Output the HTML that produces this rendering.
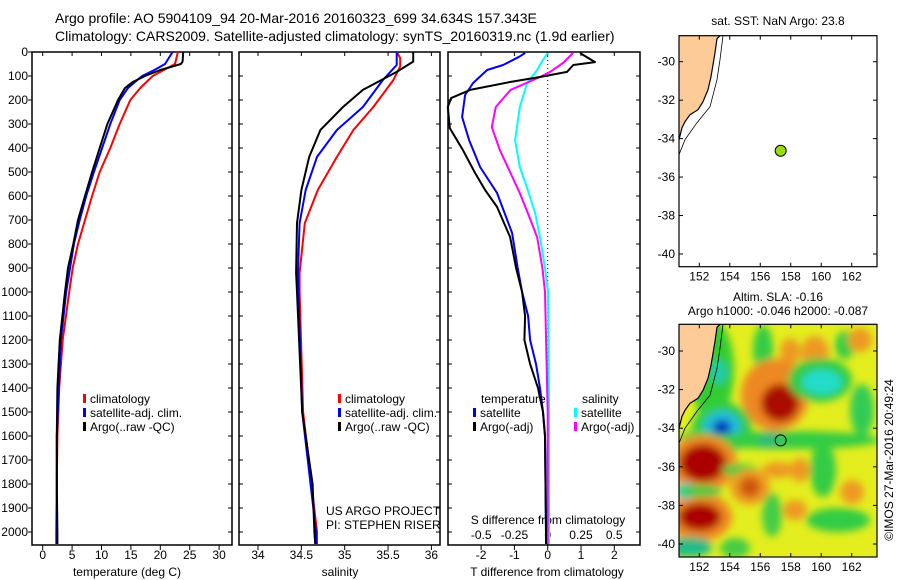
<!DOCTYPE html>
<html><head><meta charset="utf-8"><style>
body{margin:0;background:#fff;}
svg{display:block;font-family:"Liberation Sans",sans-serif;}
</style></head><body>
<svg id="c" width="900" height="580" viewBox="0 0 900 580"></svg>
<script>
// ---- data ----
const depthTicks=[0,100,200,300,400,500,600,700,800,900,1000,1100,1200,1300,1400,1500,1600,1700,1800,1900,2000];
const tempTicks=[0,5,10,15,20,25,30];
const salTicks=[34,34.5,35,35.5,36];
const salTickLabels=["34","34.5","35","35.5","36"];
const tdiffTicks=[-2,-1,0,1,2];
const sdiffTicks=[-0.5,-0.25,0,0.25,0.5];
const sdiffTickLabels=["-0.5","-0.25","0","0.25","0.5"];
const latTicks=[-30,-32,-34,-36,-38,-40];
const lonTicks=[152,154,156,158,160,162];

const tArgoDepth=[0,40,50,75,100,125,150,200,300,400,500,600,700,800,900,1000,1200,1400,1600,1800,2000,2050];
const tArgo=[23.9,23.8,23.5,20,17.4,15.3,14,12.8,11,9.7,8.4,7.2,6,5.2,4.3,3.8,2.9,2.5,2.4,2.4,2.5,2.5];
const tClimDepth=[0,50,100,150,200,250,300,400,500,600,700,800,900,1000,1200,1400,1600,2000,2050];
const tClim=[23,22.5,18.7,16.6,14.9,14,13.1,11.5,9.7,8.4,7.2,6,5.1,4.5,3.4,2.8,2.5,2.3,2.3];
const tSatDepth=[0,50,75,100,150,200,300,400,500,600,700,800,1000,1200,1600,2000,2050];
const tSat=[22.1,20.8,19,16.9,14.5,13.1,11.5,10.1,8.7,7.4,6.3,5.3,4,3.1,2.4,2.4,2.4];

const sArgoDepth=[0,40,83,158,229,325,437,575,713,921,1000,1500,1800,2000,2050];
const sArgo=[35.79,35.79,35.6,35.21,34.98,34.72,34.59,34.5,34.45,34.44,34.45,34.51,34.63,34.65,34.66];
const sSatDepth=[0,54,117,229,325,437,575,713,921,1500,2000,2050];
const sSat=[35.6,35.6,35.44,35.21,34.91,34.68,34.55,34.48,34.46,34.51,34.67,34.67];
const sClimDepth=[0,25,60,117,229,325,437,575,713,921,1000,1500,2000,2050];
const sClim=[35.6,35.64,35.64,35.56,35.33,35.1,34.91,34.69,34.54,34.48,34.48,34.52,34.68,34.68];

const dtArgoDepth=[4,42,54,83,104,125,158,192,229,317,408,504,575,646,771,900,1000,1100,1200,1300,1400,1500,1600,2000,2050];
const dtArgo=[0.97,1.42,0.77,0.58,-0.23,-1.13,-2.33,-2.9,-3,-2.94,-2.55,-2.18,-1.88,-1.52,-1.13,-0.95,-0.77,-0.68,-0.7,-0.53,-0.29,-0.14,-0.08,-0.05,-0.05];
const dtSatDepth=[4,20,54,75,129,179,271,367,479,588,754,900,1000,1100,1200,1300,1400,1500,1600,2000,2050];
const dtSat=[-0.68,-0.86,-1.34,-1.82,-2.24,-2.48,-2.57,-2.36,-2.03,-1.52,-1.07,-0.9,-0.77,-0.59,-0.53,-0.35,-0.23,-0.14,-0.08,-0.05,-0.05];
const dsArgoDepth=[4,46,83,104,158,229,313,408,504,588,671,771,900,1000,1500,2050];
const dsArgo=[0.19,0.115,0.017,-0.058,-0.28,-0.39,-0.42,-0.36,-0.28,-0.21,-0.15,-0.08,-0.04,-0.02,0,0];
const dsSatDepth=[4,33,75,129,229,367,479,575,671,771,900,1000,1500,2050];
const dsSat=[0,-0.035,-0.08,-0.155,-0.21,-0.245,-0.21,-0.15,-0.095,-0.058,-0.02,0.003,0.01,0.01];

const floatLon=157.34, floatLat=-34.63;

// ---- helpers ----
const svg=document.getElementById('c');
const NS='http://www.w3.org/2000/svg';
function mk(tag,attrs,parent){const e=document.createElementNS(NS,tag);for(const k in attrs)e.setAttribute(k,attrs[k]);(parent||svg).appendChild(e);return e;}
function txt(s,x,y,anchor,size,parent){const t=mk('text',{x:x,y:y,'text-anchor':anchor||'start','font-size':size||12,fill:'#000'},parent);t.textContent=s;return t;}
const yD=d=>52+0.24*d;
const xT=v=>42.7+5.88*v;
const xS=v=>258+86.7*(v-34);
const xDT=v=>547.7+33.3*v;
const xDS=v=>547.7+133*v;
const mLon=v=>699.3+15.24*(v-152);
const mLat1=v=>61.7-19.23*(v+30);
const mLat2=v=>351-19.3*(v+30);

function line(depths,vals,xf,color,name){
  const p=mk('polyline',{points:depths.map((d,i)=>xf(vals[i]).toFixed(1)+','+yD(d).toFixed(1)).join(' '),fill:'none',stroke:color,'stroke-width':2,'stroke-linejoin':'round'});
  
  
}
function frame(x0,x1,y0,y1,name){
  const r=mk('rect',{x:x0,y:y0,width:x1-x0,height:y1-y0,fill:'none',stroke:'#000','stroke-width':1.5});
  
  
}

// ---- titles ----
txt('Argo profile: AO 5904109_94 20-Mar-2016 20160323_699 34.634S 157.343E',55,23,'start',14);
txt('Climatology: CARS2009. Satellite-adjusted climatology: synTS_20160319.nc (1.9d earlier)',55,41,'start',14);

// ---- panel frames ----
const panels=[[32,232],[239,440],[448,640]];
panels.forEach((p,i)=>{
  frame(p[0],p[1],52,545,'profile-panel-'+(i+1));
  depthTicks.forEach(d=>{
    const y=yD(d);
    if(i===0){mk('line',{x1:p[0]-4,x2:p[0],y1:y,y2:y,stroke:'#000'});
      const t=txt(String(d),28,y+4,'end',12);}
    else mk('line',{x1:p[0],x2:p[0]+4,y1:y,y2:y,stroke:'#000'});
    mk('line',{x1:p[1]-4,x2:p[1],y1:y,y2:y,stroke:'#000'});
  });
});
tempTicks.forEach(v=>{const x=xT(v);mk('line',{x1:x,x2:x,y1:545,y2:550,stroke:'#000'});mk('line',{x1:x,x2:x,y1:52,y2:56,stroke:'#000'});
  const t=txt(String(v),x,559,'middle',12);});
txt('temperature (deg C)',127,576,'middle',12);
salTicks.forEach((v,i)=>{const x=xS(v);mk('line',{x1:x,x2:x,y1:545,y2:550,stroke:'#000'});mk('line',{x1:x,x2:x,y1:52,y2:56,stroke:'#000'});
  const t=txt(salTickLabels[i],x,559,'middle',12);});
txt('salinity',340,576,'middle',12);
tdiffTicks.forEach(v=>{const x=xDT(v);mk('line',{x1:x,x2:x,y1:545,y2:550,stroke:'#000'});mk('line',{x1:x,x2:x,y1:52,y2:56,stroke:'#000'});
  const t=txt(String(v),x,559,'middle',12);});
txt('T difference from climatology',547,576,'middle',12);
sdiffTicks.forEach((v,i)=>{const t=txt(sdiffTickLabels[i],xDS(v),539,'middle',12);});
txt('S difference from climatology',548,524,'middle',12);
mk('line',{x1:547.7,x2:547.7,y1:52,y2:545,stroke:'#000','stroke-dasharray':'1,3'});

// ---- series ----
line(tClimDepth,tClim,xT,'#ff0000','temp-climatology-line');
line(tSatDepth,tSat,xT,'#0000ff','temp-satellite-line');
line(tArgoDepth,tArgo,xT,'#000000','temp-argo-line');
line(sClimDepth,sClim,xS,'#ff0000','sal-climatology-line');
line(sSatDepth,sSat,xS,'#0000ff','sal-satellite-line');
line(sArgoDepth,sArgo,xS,'#000000','sal-argo-line');
line(dsSatDepth,dsSat,xDS,'#00ffff','sdiff-satellite-line');
line(dsArgoDepth,dsArgo,xDS,'#ff00ff','sdiff-argo-line');
line(dtSatDepth,dtSat,xDT,'#0000ff','tdiff-satellite-line');
line(dtArgoDepth,dtArgo,xDT,'#000000','tdiff-argo-line');

// ---- legends ----
function leg(x,y,color,label,name){
  const g=mk('g',{});
  if(color)mk('rect',{x:x,y:y-9,width:3,height:9,fill:color},g);
  txt(label,x+7,y,'start',12,g);
}
leg(83,403,'#ff0000','climatology','legend-climatology');
leg(83,417,'#0000ff','satellite-adj. clim.','legend-satellite-adj');
leg(83,431,'#000','Argo(..raw -QC)','legend-argo-raw');
leg(338,403,'#ff0000','climatology','legend-sal-climatology');
leg(338,417,'#0000ff','satellite-adj. clim.','legend-sal-satellite-adj');
leg(338,431,'#000','Argo(..raw -QC)','legend-sal-argo-raw');
leg(474,403,null,'temperature','legend-temperature-head');
leg(473,417,'#0000ff','satellite','legend-t-satellite');
leg(473,431,'#000','Argo(-adj)','legend-t-argo');
leg(575,403,null,'salinity','legend-salinity-head');
leg(574,417,'#00ffff','satellite','legend-s-satellite');
leg(574,431,'#ff00ff','Argo(-adj)','legend-s-argo');
txt('US ARGO PROJECT',326,515,'start',12);
txt('PI: STEPHEN RISER',326,529,'start',12);

// ---- maps ----
const coast=[[720,0],[717,3],[715,17],[711,41],[708,54],[703,66],[698,74],[690,79],[685,86],[682,92],[679,104]];
const shelf=[[723,0],[720,24],[717,44],[710,71],[697,87],[685,104],[679,119]];
function map(top,bottom,latf,sla,name){
  const g=mk('g',{});
  const cid='clip'+name;
  const cp=mk('clipPath',{id:cid},g);mk('rect',{x:679,y:top,width:198,height:bottom-top},cp);
  const inner=mk('g',{'clip-path':'url(#'+cid+')'},g);
  const off=top;
  if(sla){
    const f=mk('filter',{id:'bl',x:'-50%',y:'-50%',width:'200%',height:'200%'},g);mk('feGaussianBlur',{stdDeviation:4},f);
    mk('rect',{x:679,y:top,width:198,height:bottom-top,fill:'#e4ee1e'},inner);
    const b=mk('g',{filter:'url(#bl)'},inner);
    const blobs=[
      [712,370,22,50,'#33cc33'],[719,372,8,12,'#22ccaa'],[763,350,10,25,'#33cc44'],[815,352,14,16,'#ee9922'],[790,352,10,14,'#ee9922'],
      [775,395,34,36,'#ee8822'],[780,403,19,19,'#aa1100'],
      [820,380,32,22,'#33cc44'],[822,382,20,12,'#22ddcc'],[862,410,12,26,'#33cc55'],[845,345,10,14,'#33cc44'],
      [722,428,30,26,'#33cc44'],[722,428,19,17,'#22bbdd'],[722,428,9,8,'#0033bb'],
      [790,440,90,9,'#33cc44'],[770,440,12,8,'#33bb77'],[700,440,20,10,'#33cc44'],
      [703,463,34,28,'#ee8822'],[703,463,23,19,'#aa0000'],[700,517,32,24,'#ee8822'],[700,517,21,14,'#aa0000'],
      [686,491,10,8,'#22ccdd'],[700,491,22,6,'#33cc44'],[740,470,18,6,'#33cc44'],
      [750,487,20,18,'#ee9922'],[750,487,10,10,'#cc5511'],[778,470,16,8,'#ee9922'],[800,470,10,12,'#ee9922'],
      [823,470,13,27,'#33cc44'],[838,520,32,12,'#33cc44'],[772,515,10,22,'#44cc44'],[690,547,22,10,'#22bb88'],[735,548,15,10,'#44cc44'],
      [860,340,12,12,'#ee9922'],[852,492,12,12,'#ee9922'],[795,510,12,10,'#ee9922']];
    blobs.forEach(o=>{const e=mk('ellipse',{cx:o[0],cy:o[1],rx:o[2],ry:o[3],fill:o[4]},b);
      });
  }
  const land=[[679,off]].concat(coast.map(p=>[p[0],p[1]+off])).concat([[679,off+104]]);
  mk('polygon',{points:land.map(p=>p.join(',')).join(' '),fill:'#fccb98'},inner);
  mk('polyline',{points:coast.map(p=>p[0]+','+(p[1]+off)).join(' '),fill:'none',stroke:'#000','stroke-width':1.2},inner);
  mk('polyline',{points:shelf.map(p=>p[0]+','+(p[1]+off)).join(' '),fill:'none',stroke:'#000','stroke-width':0.8},inner);
  mk('rect',{x:679,y:top,width:198,height:bottom-top,fill:'none',stroke:'#000','stroke-width':1.2},g);
  latTicks.forEach(v=>{const y=latf(v);mk('line',{x1:679,x2:683,y1:y,y2:y,stroke:'#000'},g);mk('line',{x1:873,x2:877,y1:y,y2:y,stroke:'#000'},g);
    const t=txt(String(v),675,y+4,'end',12,g);});
  lonTicks.forEach(v=>{const x=mLon(v);mk('line',{x1:x,x2:x,y1:top,y2:top+4,stroke:'#000'},g);mk('line',{x1:x,x2:x,y1:bottom-4,y2:bottom,stroke:'#000'},g);
    const t=txt(String(v),x,bottom+14,'middle',12,g);});
  return g;
}
map(35.7,266.7,mLat1,false,'sst-map');
const dot=mk('circle',{cx:mLon(floatLon),cy:mLat1(floatLat),r:5.5,fill:'#99dd11',stroke:'#000','stroke-width':1});

txt('sat. SST: NaN Argo: 23.8',778,25,'middle',12);
map(324.3,557,mLat2,true,'sla-map');
const ring=mk('circle',{cx:mLon(floatLon),cy:mLat2(floatLat),r:5.5,fill:'none',stroke:'#000','stroke-width':1});

txt('Altim. SLA: -0.16',778,301,'middle',12);
txt('Argo h1000: -0.046 h2000: -0.087',778,315,'middle',12);
const cr=txt('©IMOS 27-Mar-2016 20:49:24',0,0,'middle',12);
cr.setAttribute('transform','translate(893,460) rotate(-90)');

</script>
</body></html>
